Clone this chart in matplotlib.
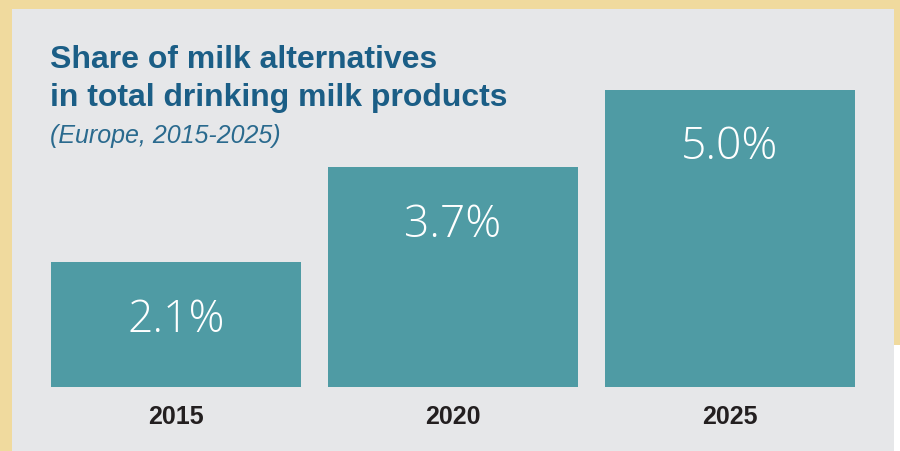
import matplotlib
matplotlib.use("Agg")
import matplotlib.pyplot as plt
from matplotlib.patches import Rectangle

# data
years = ["2015", "2020", "2025"]
shares = [2.1, 3.7, 5.0]
value_labels = ["2.1%", "3.7%", "5.0%"]

title_lines = ["Share of milk alternatives", "in total drinking milk products"]
subtitle = "(Europe, 2015-2025)"

beige = "#F0DA9E"
panel = "#E6E7E9"
teal = "#4F9BA4"
blue = "#1B5E86"

W, H = 900, 452
fig = plt.figure(figsize=(9, 4.52), dpi=100, facecolor=beige)

# grey panel + white corner
fig.add_artist(Rectangle((12/W, 0), (894-12)/W, (H-10)/H, transform=fig.transFigure,
                         facecolor=panel, edgecolor="none", zorder=0))
fig.add_artist(Rectangle((894/W, 0), 6/W, (H-346)/H, transform=fig.transFigure,
                         facecolor="white", edgecolor="none", zorder=0))

# axes over the panel, scale ~59.5 px per percent, baseline at row 388
ax = fig.add_axes([12/W, 0, 882/W, 442/H])
ax.set_facecolor("none")
ppu = 59.5
ax.set_ylim((388-452)/ppu, (388-10)/ppu)
ax.set_xlim((12-176)/277, (894-176)/277)
ax.axis("off")

x = list(range(len(years)))
ax.bar(x, shares, width=250/277, color=teal, zorder=2)

for xi, v, lab in zip(x, shares, value_labels):
    ax.text(xi, v - 69/ppu, lab, ha="center", va="baseline", color="white",
            fontsize=32, family=["Open Sans", "DejaVu Sans"], fontweight=300, zorder=3)

for xi, yr in zip(x, years):
    ax.text(xi, (388-424)/ppu, yr, ha="center", va="baseline", color="#231F20",
            fontsize=18, family="Liberation Sans", fontweight="bold")

fig.text(50/W, 1-68/H, title_lines[0], ha="left", va="baseline", color=blue,
         fontsize=23, family="Liberation Sans", fontweight="bold")
fig.text(50/W, 1-106/H, title_lines[1], ha="left", va="baseline", color=blue,
         fontsize=23, family="Liberation Sans", fontweight="bold")
fig.text(50/W, 1-143/H, subtitle, ha="left", va="baseline", color="#2A6A8E",
         fontsize=18, family="Liberation Sans", style="italic")

fig.savefig("out.png", dpi=100, facecolor=beige)
